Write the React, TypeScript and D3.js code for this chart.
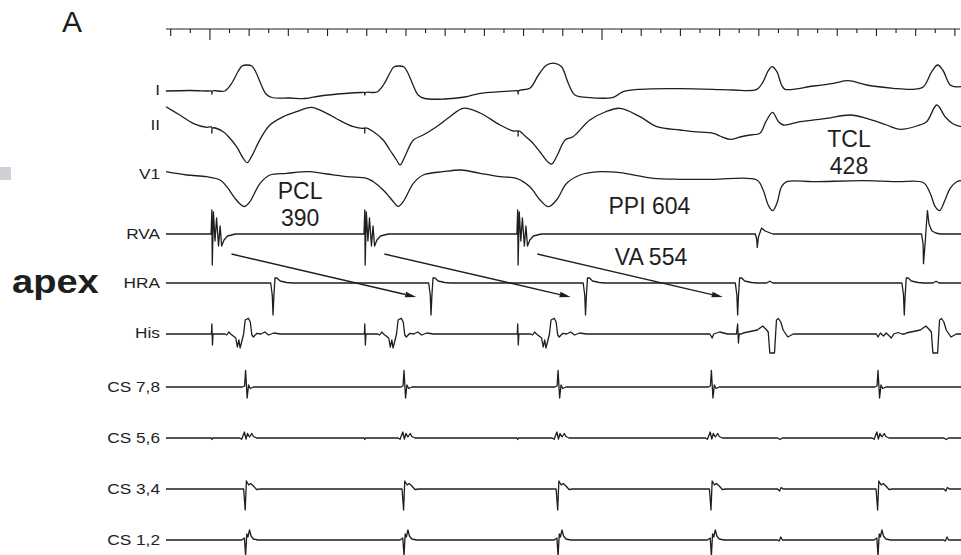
import React from 'react';
import * as d3 from 'd3';

type Pt = [number, number];

// time axis (ms) – ruler spans -112 .. 1908, ticks every 50 ms
const T_START = -112;
const T_END = 1916;
const rulerTicks = d3.range(-100, 1901, 50);

// event times (ms)
const stimTimes = [5, 395, 785];
const tachyV = [1396, 1820];
const hisTachyTimes = [1396, 1812];
const hraTimes = [161, 564, 958, 1346, 1771];
const csTimes = [91, 495, 888, 1279, 1704];
const arrowPairs: Pt[] = [[5, 564], [395, 958], [785, 1346]];

// surface leads, [ms, amplitude]
const leadI: Pt[] = [
  [-112, 0], [-51, 0.5], [-5, 0], [4, 0], [5, -3], [6.5, 0], [38, 0], [56, 8], [71, 19], [82, 25], [94, 26],
  [107, 25], [117, 19], [130, 7], [143, -3], [158, -6.5], [204, -7], [242, -7.5], [281, -5], [344, -2.5],
  [388, -1.5], [394, -1.5], [395, -4], [396.5, -1.5], [426, -1], [444, 7], [459, 18], [469, 24], [482, 25],
  [495, 24], [505, 18], [518, 6], [531, -4], [548, -7.5], [599, -8], [650, -6], [689, -2.3], [740, -0.7],
  [782, 0.3], [785, 0.3], [786, -3], [787.5, 0.3], [816, 2.7], [838, 16], [859, 26], [880, 27.7], [897, 24.3],
  [914, 7.7], [931, -4], [961, -6.3], [1029, -6.3], [1054, -0.7], [1097, 1.7], [1199, 2.3], [1284, 1.7],
  [1335, 1], [1395, 1.7], [1411, 9.3], [1424, 20.3], [1434, 24.3], [1446, 19.3], [1458, 6], [1467, 1.7],
  [1539, 5], [1590, 7.7], [1628, 10.3], [1675, 6], [1743, 2.7], [1794, 1.7], [1820, 4.3], [1841, 19.3],
  [1856, 26], [1869, 21], [1888, 6], [1900, 4.3], [1916, 4.3],
];

const leadII: Pt[] = [
  [-112, 21.3], [-77, 13], [-43, 4.7], [-8, 0.7], [4, 1], [5, -5], [6.5, 0], [34, -3.7], [51, -10.3],
  [68, -18.7], [85, -30.3], [95, -34.7], [106, -28.7], [128, -11.3], [153, 3], [187, 11.3], [221, 16.3],
  [259, 20.7], [298, 14.7], [332, 7.3], [366, 1.3], [391, -0.3], [394, 0], [395, -5], [396.5, 0], [417, -3.7],
  [442, -12], [459, -22], [476, -32], [485, -37], [497, -28.7], [519, -12], [544, -7], [578, 1.3], [612, 11.3],
  [646, 19.7], [689, 15], [740, 3], [774, -3], [785, -3], [786, -8], [787.5, -3], [804, -8], [821, -14],
  [842, -24], [862, -34], [872, -36], [885, -28], [906, -12], [926, -8.7], [969, 8], [1008, 16], [1046, 19.7],
  [1097, 11.3], [1140, 1.3], [1199, -2], [1233, -3.7], [1284, -5.3], [1301, -8], [1327, -11.3], [1352, -9],
  [1378, -7], [1403, -5.3], [1418, 6.3], [1435, 15.7], [1450, 6.3], [1463, 3], [1505, 6.3], [1573, 9.7],
  [1633, 13], [1675, 9.7], [1726, 3], [1760, -1.3], [1803, 2], [1828, 6.3], [1854, 23], [1875, 11.3],
  [1896, 4], [1916, 1.3],
];

const leadV1: Pt[] = [
  [-112, 0.3], [-59, -3], [-8, -4.7], [26, -8], [43, -14.7], [64, -26.3], [77, -32], [89, -34.5], [102, -29.7],
  [128, -11.3], [153, -3], [196, -1.3], [255, 0.3], [298, -2], [349, -4.7], [400, -6.3], [417, -9.7], [442, -18],
  [468, -29.7], [480, -34.5], [493, -29.7], [519, -11.3], [544, -3], [595, 0.3], [640, 2], [689, -1.3],
  [740, -4.7], [782, -6.3], [816, -14.7], [842, -28], [863, -34.7], [884, -28], [910, -11.3], [944, -3],
  [995, 0.3], [1046, -0.7], [1131, -6.3], [1199, -7.3], [1284, -7.3], [1395, -8], [1411, -18], [1424, -33],
  [1435, -38.7], [1446, -31.3], [1458, -14.7], [1471, -9.7], [1539, -9.7], [1667, -8.7], [1752, -9.7],
  [1820, -10.7], [1837, -21.3], [1850, -34.7], [1861, -38.7], [1875, -28], [1888, -16.3], [1905, -9.7],
  [1916, -8.7],
];

// intracardiac templates, [ms offset, amplitude]
const rvaPaced: Pt[] = [
  [-2, 0], [0, 24], [1, -31], [2.5, -5], [4, 22], [8, -7], [12, 16], [17, -12], [21, 8], [25, -12], [31, -6],
  [40, -2], [60, 0],
];
const rvaTachy1: Pt[] = [[-5, 0], [-1.5, -5], [0, -13.4], [3, -3], [11, 6], [20, 3], [40, 0]];
const rvaTachy2: Pt[] = [
  [-5, 0], [-1, -10], [0, -29.7], [4, -10], [7.5, 10], [10, 23.3], [14, 10], [21, 3.3], [31, 1], [43, 0],
];
const hraBeat: Pt[] = [[-6, 0], [-2, -12], [0, -32], [2, -14], [5, 5], [10, 5], [18, 2], [35, 0.5], [50, 0]];
const hraFarField: Pt[] = [[-8, 0], [0, 1.8], [8, 0]];
const hisPaced: Pt[] = [
  [-3, 0], [-1, 0], [0, 10], [1.5, -11], [3, 0], [33, 0], [38, -1], [43, 2], [48, 0], [61, -4], [65, -13],
  [69, -6], [72, -14], [76, -8], [81, 0], [85, 14], [93, 15.7], [98, 12], [102, -1], [106, -3], [115, 0.7],
  [125, 0], [135, 2], [145, -1], [158, 1], [175, 0],
];
const hisTachy: Pt[] = [
  [-40, 0], [-36, 1], [0, 4], [14, 8], [24, 4], [28, 2], [32, -19], [44, -19], [49, 14], [54, 15.5], [60, 12],
  [66, 4], [78, -3], [92, 0],
];
const hisAtrial: Pt[] = [
  [1275, 0], [1281, -4], [1285, 0], [1300, 2], [1320, 0], [1343, 0], [1346, 10], [1348, -9], [1350, 0],
  [1700, 0], [1704, -3], [1710, 1], [1718, -2], [1725, 1], [1738, -4], [1744, 0], [1755, 1.5], [1765, 0],
];
const cs78Beat: Pt[] = [[-8, 0], [-2.5, 1], [0, 16.5], [4, -11], [7.5, 2], [12, -1.5], [20, 0]];
const cs56Beat: Pt[] = [[-15, 0], [-10, -1.3], [-3, 6], [1, -1], [5, 4.5], [10, 1], [16, 4.5], [20, 1.5], [28, 0]];
const cs34Beat: Pt[] = [[-5, 0], [-1, -21], [2, 8], [8, 4], [13, 5.5], [20, 3], [28, -0.5], [38, 0]];
const cs12Beat: Pt[] = [[-10, 0], [-3, 2], [0, -16], [3, 6], [6, 3], [10, 10], [14, 4], [20, 1], [32, 0]];
const stimBlip: Pt[] = [[-2, 0], [0, -1.5], [2, 0]];
const cs56FF: Pt[] = [[-6, 0], [0, -1.5], [6, 0]];
const cs34FF: Pt[] = [[-6, 0], [-1, -2], [3, 1.5], [8, 0]];
const cs12FF: Pt[] = [[-6, 0], [-2, -1], [2, 3], [6, 0]];

const place = (tpl: Pt[], times: number[], shift = 0): Pt[] =>
  times.flatMap((t0) => tpl.map(([dt, a]) => [t0 + shift + dt, a] as Pt));

const trace = (...parts: Pt[][]): Pt[] => {
  const pts = parts.flat().sort((a, b) => a[0] - b[0]);
  return [[T_START, 0], ...pts, [T_END, 0]];
};

const ffTimes = tachyV.map((t) => t + 58);

const channels = [
  { label: 'I', row: 91, labelY: 95, pts: leadI, smooth: true },
  { label: 'II', row: 128, labelY: 130, pts: leadII, smooth: true },
  { label: 'V1', row: 172, labelY: 179, pts: leadV1, smooth: true },
  {
    label: 'RVA', row: 234, labelY: 239, smooth: false,
    pts: trace(place(rvaPaced, stimTimes), place(rvaTachy1, [tachyV[0]]), place(rvaTachy2, [tachyV[1]])),
  },
  {
    label: 'HRA', row: 283, labelY: 288, smooth: false,
    pts: trace(place(hraBeat, hraTimes), place(hraFarField, tachyV, 32)),
  },
  {
    label: 'His', row: 334, labelY: 338, smooth: false,
    pts: trace(place(hisPaced, stimTimes), place(hisTachy, hisTachyTimes), hisAtrial),
  },
  { label: 'CS 7,8', row: 387, labelY: 392, smooth: false, pts: trace(place(cs78Beat, csTimes)) },
  {
    label: 'CS 5,6', row: 438, labelY: 443, smooth: false,
    pts: trace(place(cs56Beat, csTimes), place(stimBlip, stimTimes), place(cs56FF, ffTimes)),
  },
  {
    label: 'CS 3,4', row: 489, labelY: 494, smooth: false,
    pts: trace(place(cs34Beat, csTimes), place(cs34FF, ffTimes)),
  },
  {
    label: 'CS 1,2', row: 540, labelY: 545, smooth: false,
    pts: trace(place(cs12Beat, csTimes), place(cs12FF, ffTimes)),
  },
];

const notes = [
  { lines: ['PCL', '390'], t: 230, y: 198.5 },
  { lines: ['PPI 604'], t: 1121, y: 214 },
  { lines: ['VA 554'], t: 1125, y: 265 },
  { lines: ['TCL', '428'], t: 1630, y: 146.5 },
];

const W = 961;
const H = 555;
const FONT = '"Liberation Sans", Arial, Helvetica, sans-serif';
const INK = '#1e1e1e';

export default function App() {
  const x = d3.scaleLinear().domain([-112, 1908]).range([166, 958]);
  const rulerY = 29;
  const rva = channels[3].row;
  const hra = channels[4].row;

  return (
    <div style={{ position: 'absolute', left: 0, top: 0 }}>
      <svg width={W} height={H} style={{ display: 'block', background: '#fff' }} fontFamily={FONT}>
        <rect x={0} y={167} width={11} height={13} fill="#cdd1d5" />
        <text x={62} y={31.5} fontSize={30} fill={INK}>A</text>
        <text transform="translate(12,293) scale(1.12,1)" fontSize={34} fontWeight="bold" fill={INK}>apex</text>

        {/* time ruler */}
        <line x1={166} x2={960} y1={rulerY} y2={rulerY} stroke={INK} strokeWidth={1.2} />
        {rulerTicks.map((t) => (
          <line
            key={t}
            x1={x(t)}
            x2={x(t)}
            y1={rulerY}
            y2={rulerY + (t % 1000 === 0 ? 11 : t % 100 === 0 ? 7 : 4)}
            stroke={INK}
            strokeWidth={1.1}
          />
        ))}

        {channels.map((c) => {
          const y = d3.scaleLinear().domain([-50, 50]).range([c.row + 50, c.row - 50]);
          const line = d3
            .line<Pt>()
            .x((d) => x(d[0]))
            .y((d) => y(d[1]))
            .curve(c.smooth ? d3.curveCatmullRom.alpha(0.5) : d3.curveLinear);
          return (
            <g key={c.label}>
              <text
                transform={`translate(160,${c.labelY}) scale(1.15,1)`}
                textAnchor="end"
                fontSize={15}
                fill={INK}
              >
                {c.label}
              </text>
              <path d={line(c.pts) || ''} fill="none" stroke={INK} strokeWidth={1.3} strokeLinejoin="round" />
            </g>
          );
        })}

        {/* VA conduction arrows */}
        {arrowPairs.map(([from, to], i) => {
          const x1 = x(from + 50);
          const y1 = rva + 20;
          const x2 = x(to - 38);
          const y2 = hra + 14;
          const ang = Math.atan2(y2 - y1, x2 - x1);
          const L = 11;
          const hw = 2.8;
          const bx = x2 - L * Math.cos(ang);
          const by = y2 - L * Math.sin(ang);
          const px = -Math.sin(ang) * hw;
          const py = Math.cos(ang) * hw;
          return (
            <g key={i}>
              <line x1={x1} y1={y1} x2={bx} y2={by} stroke={INK} strokeWidth={1.3} />
              <path d={`M${x2},${y2}L${bx + px},${by + py}L${bx - px},${by - py}Z`} fill={INK} />
            </g>
          );
        })}

        {notes.map((n) => (
          <text key={n.lines[0]} x={x(n.t)} y={n.y} fontSize={23} textAnchor="middle" fill={INK}>
            {n.lines.map((s, i) => (
              <tspan key={s} x={x(n.t)} dy={i === 0 ? 0 : 27}>
                {s}
              </tspan>
            ))}
          </text>
        ))}
      </svg>
    </div>
  );
}
